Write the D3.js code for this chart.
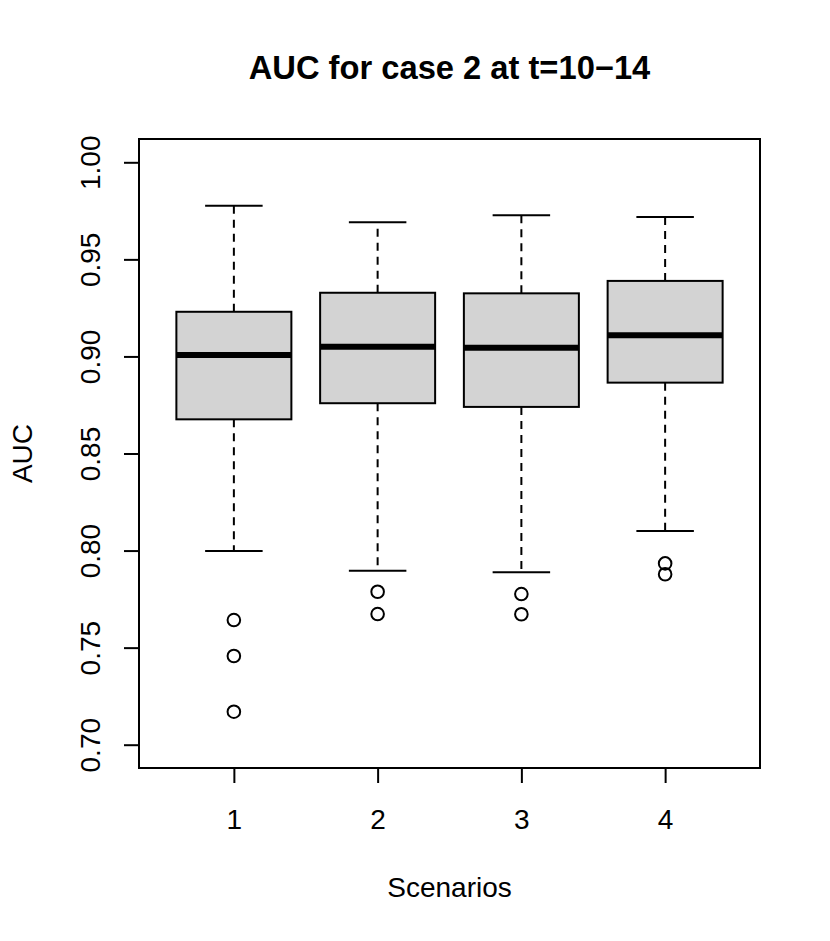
<!DOCTYPE html>
<html>
<head>
<meta charset="utf-8">
<script src="https://cdn.jsdelivr.net/npm/d3@7"></script>
<style>
  html, body { margin: 0; padding: 0; background: #fff; }
  svg { display: block; }
  text { font-family: "Liberation Sans", Arial, Helvetica, sans-serif; fill: #000; }
</style>
</head>
<body>
<svg id="chart" width="830" height="941"></svg>
<script>
// ---- data ----
const scenarios   = ["1", "2", "3", "4"];
const whiskerHigh = [0.9776, 0.9691, 0.9727, 0.9718];
const q3          = [0.9230, 0.9328, 0.9325, 0.9389];
const medians     = [0.9007, 0.9050, 0.9045, 0.9109];
const q1          = [0.8676, 0.8759, 0.8740, 0.8865];
const whiskerLow  = [0.7998, 0.7896, 0.7888, 0.8101];
const outliers    = [[0.7642, 0.7457, 0.7170], [0.7788, 0.7673], [0.7776, 0.7672], [0.7934, 0.7878]];
const yTicks      = [0.70, 0.75, 0.80, 0.85, 0.90, 0.95, 1.00];
const titleText   = "AUC for case 2 at t=10\u221214";
const xLabel      = "Scenarios";
const yLabel      = "AUC";

// ---- layout ----
const plot = { left: 139, right: 760, top: 139, bottom: 768 };
const svg = d3.select("#chart");

const x = d3.scaleLinear().domain([0.34, 4.66]).range([plot.left, plot.right]);
const y = d3.scaleLinear().domain([0.688, 1.012]).range([plot.bottom, plot.top]);

const boxHalf = (x(1.4) - x(1));      // box width 0.8
const capHalf = boxHalf / 2;

const data = scenarios.map((s, i) => ({
  s, i: i + 1,
  hi: whiskerHigh[i], q3: q3[i], med: medians[i], q1: q1[i], lo: whiskerLow[i],
  out: outliers[i]
}));

const g = svg.append("g");

data.forEach(d => {
  const cx = x(d.i);
  const grp = g.append("g");
  // whiskers (dashed)
  grp.append("line").attr("x1", cx).attr("x2", cx).attr("y1", y(d.q3)).attr("y2", y(d.hi))
    .attr("stroke", "#000").attr("stroke-width", 2).attr("stroke-dasharray", "8,6");
  grp.append("line").attr("x1", cx).attr("x2", cx).attr("y1", y(d.q1)).attr("y2", y(d.lo))
    .attr("stroke", "#000").attr("stroke-width", 2).attr("stroke-dasharray", "8,6");
  // caps
  [d.hi, d.lo].forEach(v => {
    grp.append("line").attr("x1", cx - capHalf).attr("x2", cx + capHalf)
      .attr("y1", y(v)).attr("y2", y(v)).attr("stroke", "#000").attr("stroke-width", 2);
  });
  // box
  grp.append("rect").attr("x", cx - boxHalf).attr("width", 2 * boxHalf)
    .attr("y", y(d.q3)).attr("height", y(d.q1) - y(d.q3))
    .attr("fill", "#d3d3d3").attr("stroke", "#000").attr("stroke-width", 2);
  // median
  grp.append("line").attr("x1", cx - boxHalf).attr("x2", cx + boxHalf)
    .attr("y1", y(d.med)).attr("y2", y(d.med)).attr("stroke", "#000").attr("stroke-width", 6);
  // outliers
  grp.selectAll("circle").data(d.out).enter().append("circle")
    .attr("cx", cx).attr("cy", v => y(v)).attr("r", 6.3)
    .attr("fill", "none").attr("stroke", "#000").attr("stroke-width", 2);
});

// frame
svg.append("rect").attr("x", plot.left).attr("y", plot.top)
  .attr("width", plot.right - plot.left).attr("height", plot.bottom - plot.top)
  .attr("fill", "none").attr("stroke", "#000").attr("stroke-width", 2);

// x axis
const xAxis = d3.axisBottom(x).tickValues([1, 2, 3, 4]).tickFormat((d, i) => scenarios[i])
  .tickSize(15).tickPadding(10);
const xg = svg.append("g").attr("transform", `translate(0,${plot.bottom})`).call(xAxis);
xg.select(".domain").remove();
xg.selectAll("line").attr("stroke", "#000").attr("stroke-width", 2);
xg.selectAll("text").attr("font-size", 28).attr("font-family", "Liberation Sans, Arial, sans-serif")
  .attr("dy", null).attr("y", 61);

// y axis
const yAxis = d3.axisLeft(y).tickValues(yTicks).tickFormat(d3.format(".2f")).tickSize(15);
const yg = svg.append("g").attr("transform", `translate(${plot.left},0)`).call(yAxis);
yg.select(".domain").remove();
yg.selectAll("line").attr("stroke", "#000").attr("stroke-width", 2);
yg.selectAll("text").attr("font-size", 28).attr("font-family", "Liberation Sans, Arial, sans-serif")
  .attr("x", null).attr("dy", null).attr("text-anchor", "middle")
  .attr("transform", "translate(-39,0) rotate(-90)");

// title
svg.append("text").attr("x", (plot.left + plot.right) / 2).attr("y", 79)
  .attr("text-anchor", "middle").attr("font-size", 32.7).attr("font-weight", "bold").text(titleText);
// axis titles
svg.append("text").attr("x", (plot.left + plot.right) / 2).attr("y", 897)
  .attr("text-anchor", "middle").attr("font-size", 28).text(xLabel);
svg.append("text").attr("transform", `translate(32,${(plot.top + plot.bottom) / 2}) rotate(-90)`)
  .attr("text-anchor", "middle").attr("font-size", 28).text(yLabel);
</script>
</body>
</html>
